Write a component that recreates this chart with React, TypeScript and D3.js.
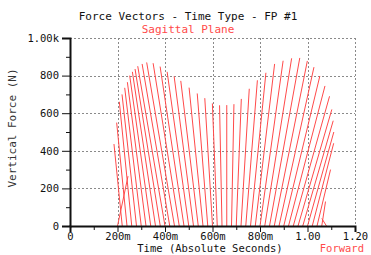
import React, { useRef, useEffect } from 'react';
import * as d3 from 'd3';

// sample times (s) of each force vector, base on the time axis
const times = [
  0.20, 0.22, 0.24, 0.26, 0.28, 0.30, 0.32, 0.34, 0.36, 0.38,
  0.40, 0.42, 0.44, 0.46, 0.48, 0.50, 0.52, 0.54, 0.56, 0.58,
  0.60, 0.62, 0.64, 0.66, 0.68, 0.70, 0.72, 0.74, 0.76, 0.78,
  0.80, 0.82, 0.84, 0.86, 0.88, 0.90, 0.92, 0.94, 0.96, 0.98,
  1.00, 1.02, 1.04, 1.06, 1.08,
];
// vertical force (N)
const fz = [
  265, 436, 550, 661, 700, 735, 765, 800, 820, 835,
  850, 862, 870, 866, 848, 820, 796, 772, 736, 705,
  680, 652, 642, 643, 648, 676, 730, 775, 815, 862,
  879, 892, 894, 878, 845, 798, 745, 690, 620, 560,
  500, 440, 300, 130, 40,
];
// fore-aft force (N), drawn on the same N scale as the vertical force
const fy = [
  56, -44, -55, -66, -77, -88, -99, -112, -123, -134,
  -145, -147, -148, -139, -127, -115, -103, -93, -74, -56,
  -41, -26, -13, 0, 13, 27, 44, 62, 82, 103,
  123, 143, 161, 176, 186, 192, 194, 193, 180, 162,
  140, 114, 72, 20, -25,
];

const xMajor = [0, 0.2, 0.4, 0.6, 0.8, 1.0, 1.2];
const xMajorLabels = ['0', '200m', '400m', '600m', '800m', '1.00', '1.20'];
const xMinor = [0.1, 0.3, 0.5, 0.7, 0.9, 1.1];
const yMajor = [0, 200, 400, 600, 800, 1000];
const yMajorLabels = ['0', '200', '400', '600', '800', '1.00k'];
const yMinor = [100, 300, 500, 700, 900];

const W = 371;
const H = 255;
const FONT = '"DejaVu Sans Mono", monospace';
const RED = '#ff4a4a';

const App: React.FC = () => {
  const svgRef = useRef<SVGSVGElement>(null);

  useEffect(() => {
    const svg = d3.select(svgRef.current);
    svg.selectAll('*').remove();

    const x = d3.scaleLinear().domain([0, 1.2]).range([70, 355]);
    const y = d3.scaleLinear().domain([0, 1000]).range([226, 38]);

    svg.append('rect').attr('width', W).attr('height', H).attr('fill', 'white');

    // dotted grid
    const grid = svg.append('g').attr('stroke', '#8a8a8a').attr('stroke-dasharray', '2,2').attr('stroke-width', 1);
    xMajor.slice(1).forEach((v) => {
      grid.append('line')
        .attr('x1', Math.round(x(v)) + 0.5).attr('x2', Math.round(x(v)) + 0.5)
        .attr('y1', y(1000)).attr('y2', y(0));
    });
    yMajor.slice(1).forEach((v) => {
      grid.append('line')
        .attr('x1', x(0)).attr('x2', x(1.2))
        .attr('y1', Math.round(y(v)) + 0.5).attr('y2', Math.round(y(v)) + 0.5);
    });

    // force vectors
    const vecs = svg.append('g').attr('stroke', RED).attr('stroke-width', 1);
    times.forEach((t, i) => {
      const dx = y(0) - y(fy[i]);
      vecs.append('line')
        .attr('x1', x(t)).attr('y1', y(0))
        .attr('x2', x(t) + dx).attr('y2', y(fz[i]));
    });

    // axes
    const xAxis = svg.append('g')
      .attr('transform', `translate(0,${y(0)})`)
      .call(d3.axisBottom(x).tickValues(xMajor).tickSize(6).tickPadding(1)
        .tickFormat((d, i) => xMajorLabels[i]));
    svg.append('g')
      .attr('transform', `translate(0,${y(0)})`)
      .call(d3.axisBottom(x).tickValues(xMinor).tickSize(4).tickFormat(() => ''))
      .select('.domain').remove();

    const yAxis = svg.append('g')
      .attr('transform', `translate(${x(0)},0)`)
      .call(d3.axisLeft(y).tickValues(yMajor).tickSize(8).tickPadding(3)
        .tickFormat((d, i) => yMajorLabels[i]));
    svg.append('g')
      .attr('transform', `translate(${x(0)},0)`)
      .call(d3.axisLeft(y).tickValues(yMinor).tickSize(4).tickFormat(() => ''))
      .select('.domain').remove();

    [xAxis, yAxis].forEach((a) => {
      a.select('.domain').attr('stroke', '#111').attr('stroke-width', 2);
      a.selectAll('text').attr('font-family', FONT).attr('font-size', 10.5).attr('fill', '#111');
    });
    svg.selectAll('.tick line').attr('stroke', '#111');

    // titles
    svg.append('text')
      .attr('x', 188).attr('y', 20).attr('text-anchor', 'middle')
      .attr('font-family', FONT).attr('font-size', 11).attr('fill', '#111')
      .text('Force Vectors - Time Type - FP #1');
    svg.append('text')
      .attr('x', 188).attr('y', 33).attr('text-anchor', 'middle')
      .attr('font-family', FONT).attr('font-size', 11).attr('fill', RED)
      .text('Sagittal Plane');
    svg.append('text')
      .attr('x', 210).attr('y', 251.5).attr('text-anchor', 'middle')
      .attr('font-family', FONT).attr('font-size', 10.5).attr('fill', '#111')
      .text('Time (Absolute Seconds)');
    svg.append('text')
      .attr('x', 364).attr('y', 251.5).attr('text-anchor', 'end')
      .attr('font-family', FONT).attr('font-size', 10.5).attr('fill', RED)
      .text('Forward');
    svg.append('text')
      .attr('transform', 'translate(16,128) rotate(-90)').attr('text-anchor', 'middle')
      .attr('font-family', FONT).attr('font-size', 11).attr('fill', '#333')
      .text('Vertical Force (N)');
  }, []);

  return (
    <div style={{ position: 'absolute', left: 0, top: 0 }}>
      <svg ref={svgRef} width={W} height={H} style={{ display: 'block' }} />
    </div>
  );
};

export default App;
